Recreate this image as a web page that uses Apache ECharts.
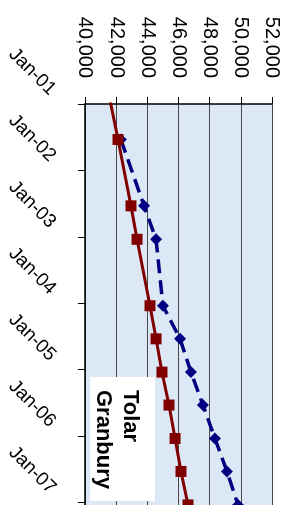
<!DOCTYPE html>
<html>
<head>
<meta charset="utf-8">
<script src="https://cdn.jsdelivr.net/npm/echarts@6/dist/echarts.min.js"></script>
<style>
  html, body { margin: 0; padding: 0; background: #ffffff; }
  #chart { width: 289px; height: 505px; }
</style>
</head>
<body>
<div id="chart"></div>
<script>
// fechas de las observaciones (la primera cae antes del eje y queda recortada)
const dates = ['2000-07-15', '2001-07-15', '2002-07-15', '2003-01-15', '2004-01-15', '2004-07-15',
    '2005-01-15', '2005-07-15', '2006-01-15', '2006-07-15', '2007-01-15'];
const tolar = [41250, 42120, 42950, 43340, 44170, 44560, 44940, 45390, 45780, 46160, 46610];
const granbury = [null, 42300, 43790, 44560, 45000, 46100, 46800, 47570, 48340, 49110, 49820];
const valueTicks = [40000, 42000, 44000, 46000, 48000, 50000, 52000];
const yearTicks = [2001, 2002, 2003, 2004, 2005, 2006, 2007];

// fecha -> año decimal
function toYear(s) {
    const d = new Date(s + 'T00:00:00Z');
    const start = Date.UTC(d.getUTCFullYear(), 0, 1);
    return d.getUTCFullYear() + (d.getTime() - start) / (365 * 86400000);
}

const font = 'Liberation Sans';
const chart = echarts.init(document.getElementById('chart'));

chart.setOption({
    backgroundColor: '#ffffff',
    animation: false,
    grid: {
        left: 85,
        top: 104,
        width: 187,
        height: 405,
        outerBoundsMode: 'none',
        containLabel: false,
        show: true,
        backgroundColor: '#dce8f6',
        borderWidth: 0
    },
    xAxis: {
        type: 'value',
        position: 'top',
        min: valueTicks[0],
        max: valueTicks[valueTicks.length - 1],
        interval: 2000,
        axisLine: { show: true, lineStyle: { color: '#000000', width: 1.5 } },
        axisTick: { show: true, length: 7, lineStyle: { color: '#000000' } },
        splitLine: { show: true, lineStyle: { color: '#4a4a4a', width: 1 } },
        axisLabel: {
            rotate: 90,
            margin: 26,
            color: '#000000',
            fontFamily: font,
            fontSize: 20,
            formatter: v => v.toLocaleString('en-US')
        }
    },
    yAxis: {
        type: 'value',
        inverse: true,
        min: yearTicks[0],
        max: 2007.1,
        interval: 1,
        axisLine: { show: true, lineStyle: { color: '#000000', width: 1.5 } },
        axisTick: { show: true, length: 7, lineStyle: { color: '#000000' } },
        splitLine: { show: false },
        axisLabel: {
            rotate: -45,
            margin: 34,
            verticalAlign: 'bottom',
            padding: [0, 7, 0, 0],
            showMaxLabel: false,
            color: '#000000',
            fontFamily: font,
            fontSize: 19,
            formatter: v => Number.isInteger(v) ? 'Jan-' + String(v).slice(2) : ''
        }
    },
    series: [
        {
            name: 'Tolar',
            type: 'line',
            clip: true,
            data: dates.map((d, i) => [tolar[i], toYear(d)]),
            symbol: 'rect',
            symbolSize: 11,
            itemStyle: { color: '#800000' },
            lineStyle: { color: '#800000', width: 3 }
        },
        {
            name: 'Granbury',
            type: 'line',
            clip: true,
            connectNulls: true,
            data: dates.map((d, i) => [granbury[i], toYear(d)]),
            symbol: 'diamond',
            symbolSize: 12,
            itemStyle: { color: '#000080' },
            lineStyle: { color: '#000080', width: 3.5, type: [14, 7] },
            z: 1
        }
    ],
    graphic: [
        {
            type: 'rect',
            shape: { x: 90, y: 377, width: 65, height: 124 },
            style: { fill: '#ffffff' },
            z: 10
        },
        {
            type: 'text',
            x: 130, y: 390,
            rotation: -Math.PI / 2,
            style: { text: 'Tolar', fontFamily: font, fontSize: 22, fontWeight: 'bold', fill: '#000000',
                align: 'left', verticalAlign: 'middle' },
            z: 11
        },
        {
            type: 'text',
            x: 103, y: 390,
            rotation: -Math.PI / 2,
            style: { text: 'Granbury', fontFamily: font, fontSize: 22, fontWeight: 'bold', fill: '#000000',
                align: 'left', verticalAlign: 'middle' },
            z: 11
        }
    ]
});

window.addEventListener('resize', () => chart.resize());
</script>
</body>
</html>
